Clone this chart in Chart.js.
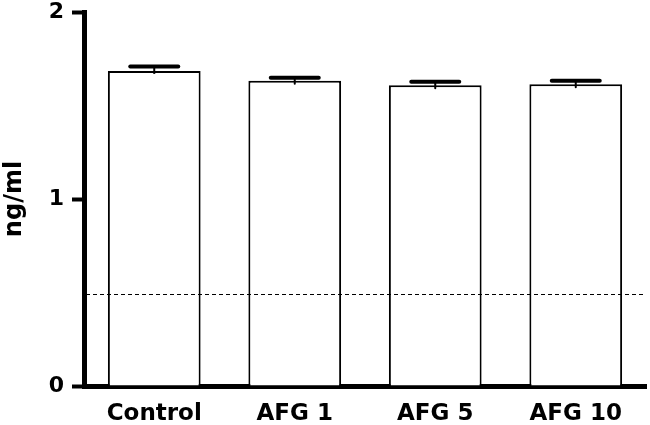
<!DOCTYPE html>
<html>
<head>
<meta charset="utf-8">
<script src="https://cdn.jsdelivr.net/npm/chart.js@4"></script>
<style>
  html, body { margin: 0; padding: 0; background: #fff; }
  #wrap { width: 650px; height: 425px; }
</style>
</head>
<body>
<div id="wrap"><canvas id="barChart" width="650" height="425"></canvas></div>
<script>
const categorias = ["Control", "AFG 1", "AFG 5", "AFG 10"];
const medias = [1.685, 1.632, 1.608, 1.613];
const errores = [0.024, 0.017, 0.019, 0.019];
const limiteDeteccion = 0.49;
const ticksY = [0, 1, 2];

// barras de error (solo hacia arriba, como en el original)
const errorBarsPlugin = {
  id: "errorBars",
  afterDatasetsDraw(chart) {
    const { ctx, scales: { y } } = chart;
    const meta = chart.getDatasetMeta(0);
    ctx.save();
    ctx.strokeStyle = "#000";
    meta.data.forEach((bar, i) => {
      const yTop = y.getPixelForValue(medias[i] + errores[i]);
      const yBase = y.getPixelForValue(medias[i]);
      ctx.lineWidth = 2;
      ctx.beginPath();
      ctx.moveTo(bar.x, yBase + 3);
      ctx.lineTo(bar.x, yTop);
      ctx.stroke();
      ctx.lineWidth = 4;
      ctx.lineCap = "round";
      ctx.beginPath();
      ctx.moveTo(bar.x - 24, yTop);
      ctx.lineTo(bar.x + 24, yTop);
      ctx.stroke();
    });
    ctx.restore();
  },
};

// línea punteada del límite
const limitePlugin = {
  id: "limite",
  afterDatasetsDraw(chart) {
    const { ctx, chartArea, scales: { y } } = chart;
    const py = Math.round(y.getPixelForValue(limiteDeteccion)) + 0.5;
    ctx.save();
    ctx.strokeStyle = "#000";
    ctx.lineWidth = 1;
    ctx.setLineDash([4, 3]);
    ctx.beginPath();
    ctx.moveTo(chartArea.left + 2, py);
    ctx.lineTo(chartArea.right - 3, py);
    ctx.stroke();
    ctx.restore();
  },
};

const ctx = document.getElementById("barChart").getContext("2d");
new Chart(ctx, {
  type: "bar",
  data: {
    labels: categorias,
    datasets: [{
      data: medias,
      backgroundColor: "#fff",
      borderColor: "#000",
      borderWidth: 2,
      borderSkipped: "bottom",
      categoryPercentage: 0.66,
      barPercentage: 1,
    }],
  },
  options: {
    responsive: false,
    animation: false,
    layout: { padding: { top: 12, right: 4, left: 0, bottom: 0 } },
    plugins: { legend: { display: false }, tooltip: { enabled: false } },
    scales: {
      x: {
        border: { color: "#000", width: 5 },
        grid: { display: false },
        ticks: {
          color: "#000",
          font: { family: "DejaVu Sans", size: 23, weight: "bold" },
          padding: 6,
        },
        afterFit(scale) { scale.height = 39; },
      },
      y: {
        min: 0,
        max: 2,
        afterBuildTicks(scale) { scale.ticks = ticksY.map((v) => ({ value: v })); },
        border: { color: "#000", width: 5 },
        grid: { drawOnChartArea: false, color: "#000", tickLength: 12, tickWidth: 4 },
        ticks: {
          color: "#000",
          font: { family: "DejaVu Sans", size: 22, weight: "bold" },
          padding: 8,
        },
        title: {
          display: true,
          text: "ng/ml",
          color: "#000",
          font: { family: "DejaVu Sans", size: 24, weight: "bold" },
          padding: { top: 0, bottom: 10 },
        },
        afterFit(scale) {
          scale.width = 84;
          scale.paddingTop = 0;
          scale.paddingBottom = 0;
        },
      },
    },
  },
  plugins: [errorBarsPlugin, limitePlugin],
});
</script>
</body>
</html>
